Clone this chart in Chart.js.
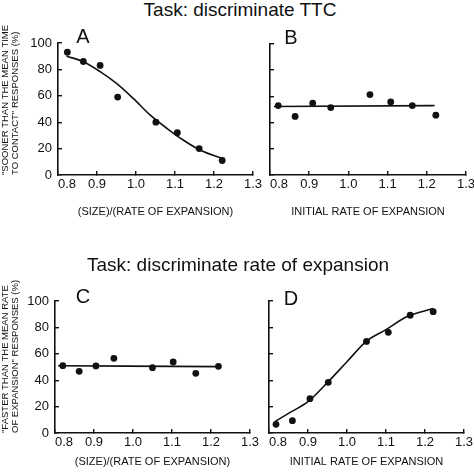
<!DOCTYPE html>
<html>
<head>
<meta charset="utf-8">
<script src="https://cdn.jsdelivr.net/npm/chart.js@4/dist/chart.umd.min.js"></script>
<style>
  html, body { margin: 0; padding: 0; background: #fff; }
  #wrap { position: relative; width: 474px; height: 474px; overflow: hidden; font-family: 'Liberation Sans', Arial, sans-serif; color: #111; }
  canvas { position: absolute; }
  .title { position: absolute; font-size: 19px; line-height: 19px; white-space: nowrap; transform: translateX(-50%); }
  .letter { position: absolute; font-size: 20px; line-height: 20px; transform: translateX(-50%); }
</style>
</head>
<body>
<div id="wrap">
  <canvas id="chartA" width="262" height="206" style="left:0px; top:20px;"></canvas>
  <canvas id="chartB" width="212" height="196" style="left:262px; top:30px;"></canvas>
  <canvas id="chartC" width="262" height="204" style="left:0px; top:270px;"></canvas>
  <canvas id="chartD" width="212" height="194" style="left:262px; top:280px;"></canvas>
  <div class="title" style="left:240px; top:0px;">Task: discriminate TTC</div>
  <div class="title" style="left:238px; top:255px;">Task: discriminate rate of expansion</div>
  <div class="letter" style="left:83px; top:26px;">A</div>
  <div class="letter" style="left:291px; top:27px;">B</div>
  <div class="letter" style="left:83px; top:286px;">C</div>
  <div class="letter" style="left:291px; top:288px;">D</div>
</div>
<script>
// ---- data ----
// Panel A: TTC task, x = size / rate of expansion
const xA = [0.824, 0.865, 0.908, 0.953, 1.051, 1.106, 1.162, 1.221];
const yA = [93, 86, 83, 59, 40, 32, 20, 11];
const fitXA = [0.822, 0.865, 0.908, 0.95, 0.993, 1.036, 1.079, 1.121, 1.164, 1.22];
const fitYA = [90, 85.8, 78.3, 69.4, 58, 45.5, 35.4, 26.5, 18.9, 12.6];

// Panel B: TTC task, x = initial rate of expansion
const xB = [0.821, 0.864, 0.909, 0.955, 1.055, 1.108, 1.163, 1.223];
const yB = [53, 44.7, 54.8, 51.5, 61.4, 55.8, 53, 45.7];
const fitXB = [0.81, 1.22];
const fitYB = [52.3, 53];

// Panel C: rate task, x = size / rate of expansion
const xC = [0.82, 0.862, 0.905, 0.951, 1.05, 1.103, 1.161, 1.219];
const yC = [51, 46.7, 50.8, 56.6, 49.5, 53.8, 45.2, 50.5];
const fitXC = [0.808, 1.219];
const fitYC = [51, 50.3];

// Panel D: rate task, x = initial rate of expansion
const xD = [0.818, 0.86, 0.905, 0.952, 1.05, 1.106, 1.162, 1.221];
const yD = [6.6, 9.3, 26, 38.4, 69.4, 76.3, 89.2, 91.9];
const fitXD = [0.815, 0.85, 0.9, 0.952, 1.0, 1.05, 1.101, 1.153, 1.221];
const fitYD = [8.6, 14.9, 23.7, 38.9, 54, 69.6, 78.5, 88, 94.4];

const xTicksMin = 0.8, xTicksMax = 1.3, xStep = 0.1;
const yTicksMin = 0, yTicksMax = 100, yStep = 20;

Chart.defaults.font.family = "'Liberation Sans', Arial, sans-serif";
Chart.defaults.color = '#111';

const ink = '#111';

function pairs(xs, ys) {
  return xs.map((x, i) => ({ x: x, y: ys[i] }));
}

// first x label sits right of the y axis in the original, so pad it with spaces
function xLabel(v, i) {
  return i === 0 ? '     ' + v.toFixed(1) : v.toFixed(1);
}

function makePanel(id, xs, ys, fx, fy, o) {
  new Chart(document.getElementById(id), {
    type: 'scatter',
    data: {
      datasets: [{
        data: pairs(xs, ys),
        showLine: false,
        pointRadius: 3.4,
        pointBackgroundColor: ink,
        pointBorderWidth: 0,
      }, {
        data: pairs(fx, fy),
        showLine: true,
        borderColor: ink,
        borderWidth: 1.6,
        pointRadius: 0,
        cubicInterpolationMode: 'monotone',
      }]
    },
    options: {
      responsive: false,
      animation: false,
      events: [],
      layout: { padding: { top: o.top, right: o.right, left: 0, bottom: 0 } },
      plugins: { legend: { display: false }, tooltip: { enabled: false } },
      scales: {
        x: {
          type: 'linear', min: xTicksMin, max: xTicksMax,
          ticks: { stepSize: xStep, autoSkip: false, maxRotation: 0, padding: 6, font: { size: 13 }, color: ink,
                   callback: xLabel },
          grid: { drawOnChartArea: false, tickLength: -4, color: ink, lineWidth: 1.4 },
          border: { color: ink, width: 1.6 },
          title: { display: true, text: o.xTitle, font: { size: 11 }, color: ink, padding: { top: 0, bottom: o.xTitlePad } },
          afterFit: s => { s.height = o.xH; s.paddingLeft = 0; s.paddingRight = 0; }
        },
        y: {
          min: yTicksMin, max: yTicksMax,
          ticks: { stepSize: yStep, display: o.yLabels, padding: 10, font: { size: 13 }, color: ink },
          grid: { drawOnChartArea: false, tickLength: -4, color: ink, lineWidth: 1.4 },
          border: { color: ink, width: 1.6 },
          title: { display: !!o.yTitle, text: o.yTitle || '', align: 'start', font: { size: 9.5, lineHeight: 1.05 }, color: ink, padding: 0 },
          afterFit: s => { s.width = o.yW; s.paddingTop = 0; s.paddingBottom = 0; }
        }
      }
    }
  });
}

makePanel('chartA', xA, yA, fitXA, fitYA, {
  top: 23, right: 9, xH: 51, xTitlePad: 7.5, yW: 58, yLabels: true,
  xTitle: '(SIZE)/(RATE OF EXPANSION)',
  yTitle: ['"SOONER THAN THE MEAN TIME', 'TO CONTACT" RESPONSES (%)']
});
makePanel('chartB', xB, yB, fitXB, fitYB, {
  top: 14, right: 8, xH: 51, xTitlePad: 7.5, yW: 8, yLabels: false,
  xTitle: 'INITIAL RATE OF EXPANSION'
});
makePanel('chartC', xC, yC, fitXC, fitYC, {
  top: 31, right: 12, xH: 41, xTitlePad: 5.5, yW: 55, yLabels: true,
  xTitle: '(SIZE)/(RATE OF EXPANSION)',
  yTitle: ['"FASTER THAN THE MEAN RATE', 'OF EXPANSION" RESPONSES (%)']
});
makePanel('chartD', xD, yD, fitXD, fitYD, {
  top: 21, right: 10, xH: 41, xTitlePad: 5.5, yW: 7, yLabels: false,
  xTitle: 'INITIAL RATE OF EXPANSION'
});
</script>
</body>
</html>
